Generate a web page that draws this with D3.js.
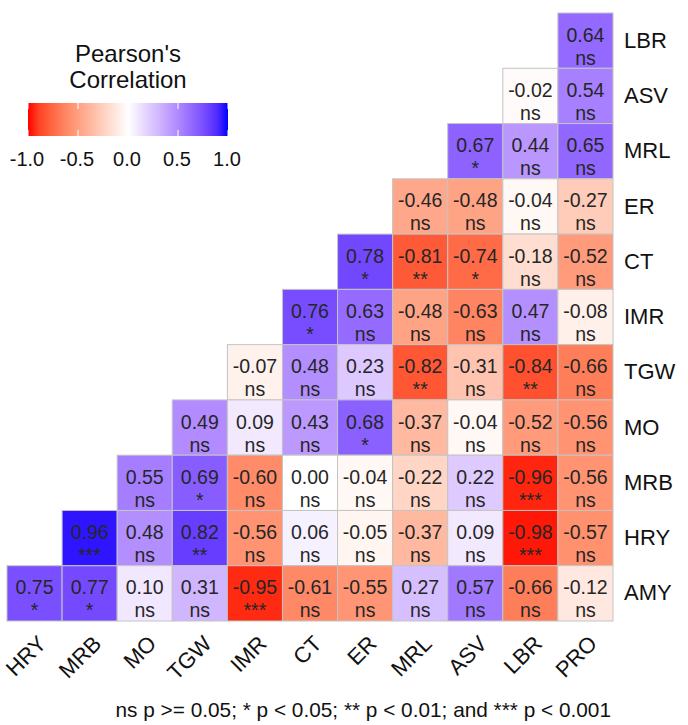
<!DOCTYPE html>
<html>
<head>
<meta charset="utf-8">
<script src="https://cdn.jsdelivr.net/npm/d3@7"></script>
<style>
  html, body { margin: 0; padding: 0; background: #fff; }
  svg { display: block; font-family: "Liberation Sans", Arial, sans-serif; }
</style>
</head>
<body>
<svg id="chart" width="688" height="725"></svg>
<script>
// ---- data ----
const columns = ["HRY", "MRB", "MO", "TGW", "IMR", "CT", "ER", "MRL", "ASV", "LBR", "PRO"];
const rows = ["LBR", "ASV", "MRL", "ER", "CT", "IMR", "TGW", "MO", "MRB", "HRY", "AMY"];

// correlation values per row (aligned to the last N columns)
const valLBR = [0.64];
const valASV = [-0.02, 0.54];
const valMRL = [0.67, 0.44, 0.65];
const valER  = [-0.46, -0.48, -0.04, -0.27];
const valCT  = [0.78, -0.81, -0.74, -0.18, -0.52];
const valIMR = [0.76, 0.63, -0.48, -0.63, 0.47, -0.08];
const valTGW = [-0.07, 0.48, 0.23, -0.82, -0.31, -0.84, -0.66];
const valMO  = [0.49, 0.09, 0.43, 0.68, -0.37, -0.04, -0.52, -0.56];
const valMRB = [0.55, 0.69, -0.60, 0.00, -0.04, -0.22, 0.22, -0.96, -0.56];
const valHRY = [0.96, 0.48, 0.82, -0.56, 0.06, -0.05, -0.37, 0.09, -0.98, -0.57];
const valAMY = [0.75, 0.77, 0.10, 0.31, -0.95, -0.61, -0.55, 0.27, 0.57, -0.66, -0.12];

// significance labels per row
const sigLBR = ["ns"];
const sigASV = ["ns", "ns"];
const sigMRL = ["*", "ns", "ns"];
const sigER  = ["ns", "ns", "ns", "ns"];
const sigCT  = ["*", "**", "*", "ns", "ns"];
const sigIMR = ["*", "ns", "ns", "ns", "ns", "ns"];
const sigTGW = ["ns", "ns", "ns", "**", "ns", "**", "ns"];
const sigMO  = ["ns", "ns", "ns", "*", "ns", "ns", "ns", "ns"];
const sigMRB = ["ns", "*", "ns", "ns", "ns", "ns", "ns", "***", "ns"];
const sigHRY = ["***", "ns", "**", "ns", "ns", "ns", "ns", "ns", "***", "ns"];
const sigAMY = ["*", "*", "ns", "ns", "***", "ns", "ns", "ns", "ns", "ns", "ns"];

const legendTicks = [-1.0, -0.5, 0.0, 0.5, 1.0];
const legendTitle = ["Pearson's", "Correlation"];
const footnote = "ns p >= 0.05; * p < 0.05; ** p < 0.01; and *** p < 0.001";

const rowValues = [valLBR, valASV, valMRL, valER, valCT, valIMR, valTGW, valMO, valMRB, valHRY, valAMY];
const rowSigs = [sigLBR, sigASV, sigMRL, sigER, sigCT, sigIMR, sigTGW, sigMO, sigMRB, sigHRY, sigAMY];

// build cell table
const cells = [];
rows.forEach((r, i) => {
  const vals = rowValues[i];
  const offset = columns.length - vals.length;
  vals.forEach((v, j) => {
    cells.push({ row: r, col: columns[offset + j], value: v, sig: rowSigs[i][j] });
  });
});

// ---- drawing ----
const svg = d3.select("#chart");
svg.append("rect").attr("width", 688).attr("height", 725).attr("fill", "#fff");

const x = d3.scaleBand().domain(columns).range([7, 613]).padding(0);
const y = d3.scaleBand().domain(rows).range([13, 621]).padding(0);

const colorNeg = d3.scaleLinear().domain([-1, 0]).range(["#ff0000", "#ffffff"]).interpolate(d3.interpolateLab);
const colorPos = d3.scaleLinear().domain([0, 1]).range(["#ffffff", "#0000ff"]).interpolate(d3.interpolateLab);
const color = v => (v < 0 ? colorNeg(v) : colorPos(v));

const g = svg.append("g");
g.selectAll("rect.cell").data(cells).join("rect")
  .attr("class", "cell")
  .attr("x", d => x(d.col))
  .attr("y", d => y(d.row))
  .attr("width", x.bandwidth())
  .attr("height", y.bandwidth())
  .attr("fill", d => color(d.value))
  .attr("stroke", "#c4c4c4")
  .attr("stroke-width", 1);

g.selectAll("text.val").data(cells).join("text")
  .attr("class", "val")
  .attr("x", d => x(d.col) + x.bandwidth() / 2)
  .attr("y", d => y(d.row) + y.bandwidth() / 2 + 1)
  .attr("text-anchor", "middle")
  .attr("font-size", 19.5)
  .attr("fill", "#262626")
  .text(d => d.value.toFixed(2));

g.selectAll("text.sig").data(cells).join("text")
  .attr("class", "sig")
  .attr("x", d => x(d.col) + x.bandwidth() / 2)
  .attr("y", d => y(d.row) + y.bandwidth() / 2 + 24)
  .attr("text-anchor", "middle")
  .attr("font-size", 19.5)
  .attr("fill", "#262626")
  .text(d => d.sig);

// right-side row labels
const yAxis = d3.axisRight(y).tickSize(0).tickPadding(11);
svg.append("g")
  .attr("transform", "translate(613,0)")
  .call(yAxis)
  .call(a => a.select(".domain").remove())
  .selectAll("text")
  .attr("font-family", "Liberation Sans, Arial, sans-serif")
  .attr("font-size", 22)
  .attr("fill", "#111");

// bottom column labels (rotated)
const xAxis = d3.axisBottom(x).tickSize(0);
const xa = svg.append("g")
  .attr("transform", "translate(0,621)")
  .call(xAxis);
xa.select(".domain").remove();
xa.selectAll("text")
  .attr("font-family", "Liberation Sans, Arial, sans-serif")
  .attr("font-size", 22)
  .attr("fill", "#111")
  .attr("text-anchor", "end")
  .attr("dy", null)
  .attr("y", 0)
  .attr("transform", "translate(13,24) rotate(-45)");

// ---- legend ----
const lx = d3.scaleLinear().domain([-1, 1]).range([28, 228]);
const defs = svg.append("defs");
const grad = defs.append("linearGradient").attr("id", "lg").attr("x1", "0%").attr("x2", "100%");
d3.range(0, 1.0001, 0.05).forEach(t => {
  const v = -1 + 2 * t;
  grad.append("stop").attr("offset", (t * 100) + "%").attr("stop-color", color(v));
});
const leg = svg.append("g");
leg.append("rect")
  .attr("x", lx(-1)).attr("y", 103)
  .attr("width", lx(1) - lx(-1)).attr("height", 33)
  .attr("fill", "url(#lg)");
leg.selectAll("line.tk").data(legendTicks).join("line")
  .attr("class", "tk")
  .attr("x1", d => lx(d)).attr("x2", d => lx(d))
  .attr("y1", 103).attr("y2", 109)
  .attr("stroke", "#fff").attr("stroke-width", 1);
leg.selectAll("line.tk2").data(legendTicks).join("line")
  .attr("class", "tk2")
  .attr("x1", d => lx(d)).attr("x2", d => lx(d))
  .attr("y1", 130).attr("y2", 136)
  .attr("stroke", "#fff").attr("stroke-width", 1);
leg.selectAll("text.tl").data(legendTicks).join("text")
  .attr("class", "tl")
  .attr("x", d => lx(d) - 1)
  .attr("y", 166)
  .attr("text-anchor", "middle")
  .attr("font-size", 20)
  .attr("fill", "#111")
  .text(d => d3.format(".1f")(d).replace("−", "-"));
leg.selectAll("text.tt").data(legendTitle).join("text")
  .attr("class", "tt")
  .attr("x", 128)
  .attr("y", (d, i) => 62 + i * 26)
  .attr("text-anchor", "middle")
  .attr("font-size", 24)
  .attr("fill", "#111")
  .text(d => d);

// footnote
svg.append("text")
  .attr("x", 611).attr("y", 717)
  .attr("text-anchor", "end")
  .attr("font-size", 20.8)
  .attr("fill", "#111")
  .text(footnote);
</script>
</body>
</html>
